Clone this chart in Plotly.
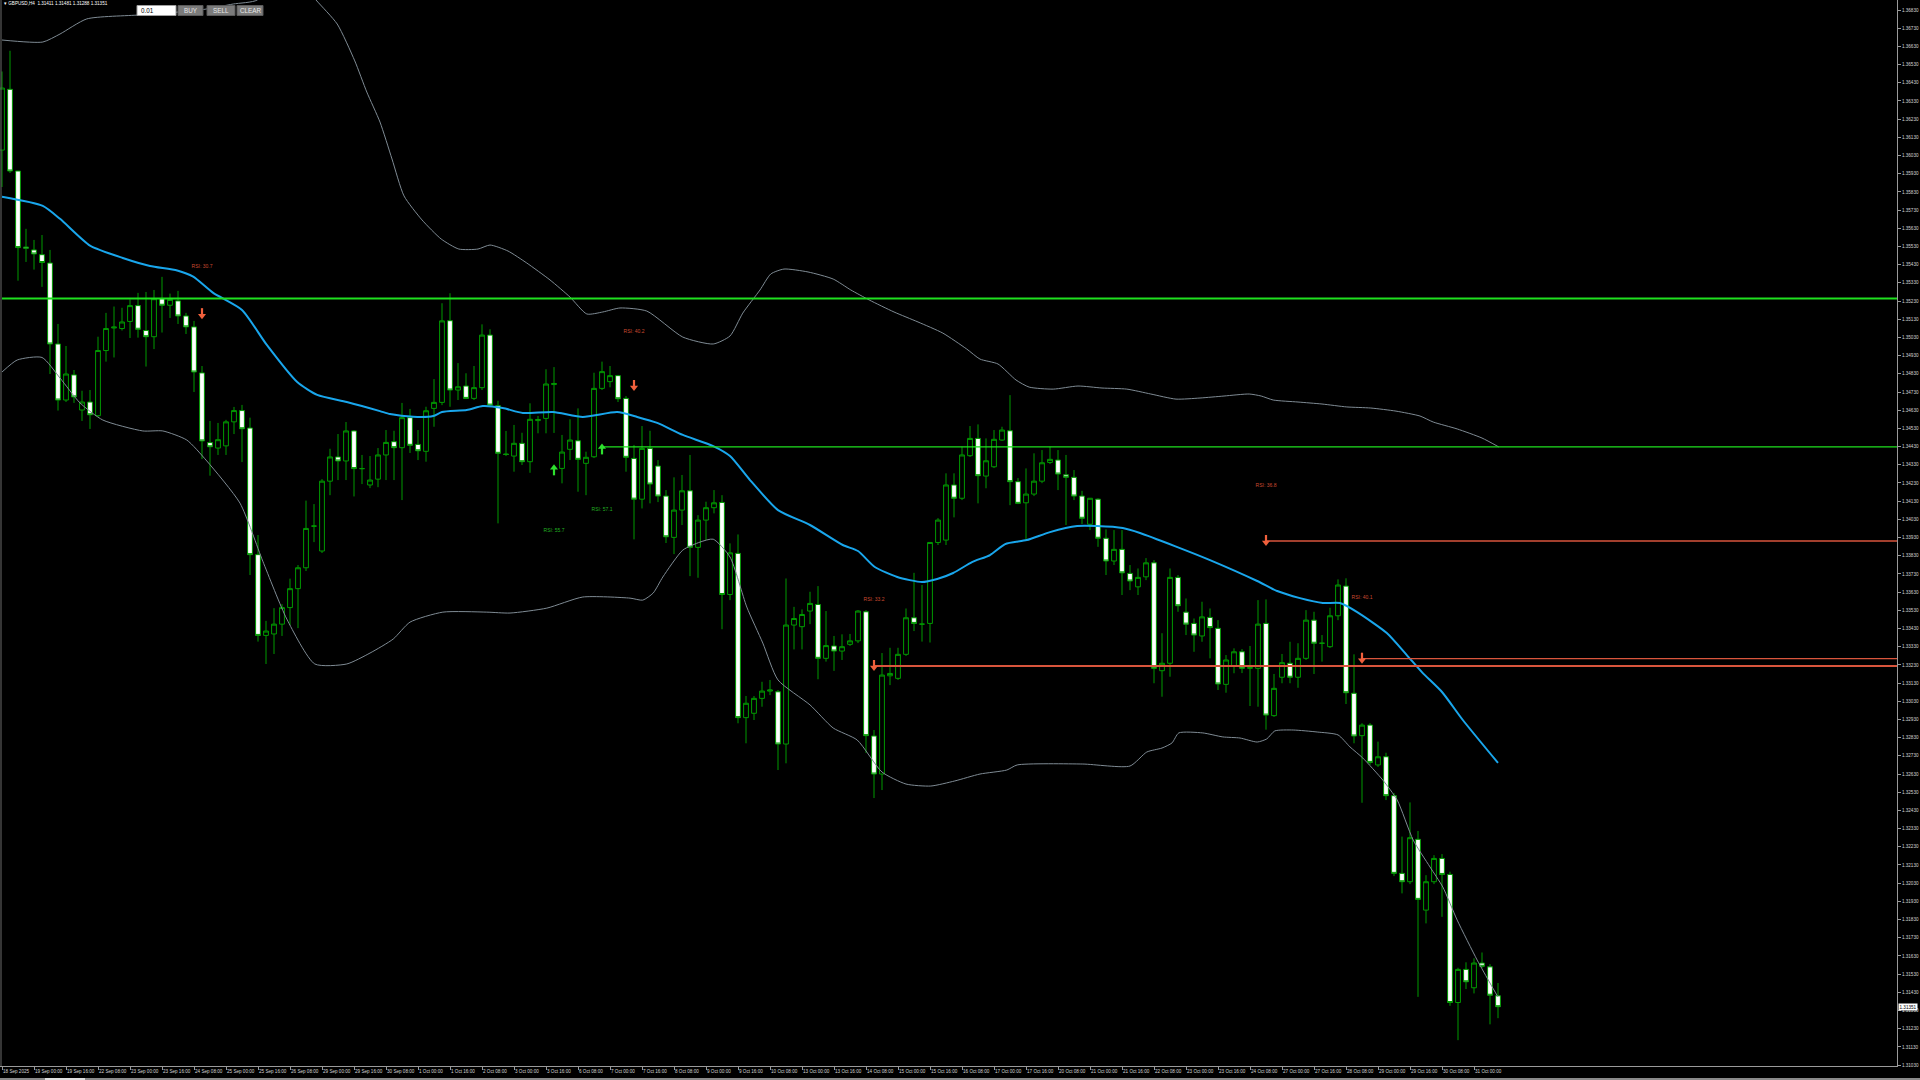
import plotly.graph_objects as go

# ---------------- data ----------------
symbol = "GBPUSD,H4"

tick_labels = ['18 Sep 2025', '19 Sep 00:00', '19 Sep 16:00', '22 Sep 08:00', '23 Sep 00:00', '23 Sep 16:00',
               '24 Sep 08:00', '25 Sep 00:00', '25 Sep 16:00', '26 Sep 08:00', '29 Sep 00:00', '29 Sep 16:00',
               '30 Sep 08:00', '1 Oct 00:00', '1 Oct 16:00', '2 Oct 08:00', '3 Oct 00:00', '3 Oct 16:00',
               '6 Oct 08:00', '7 Oct 00:00', '7 Oct 16:00', '8 Oct 08:00', '9 Oct 00:00', '9 Oct 16:00',
               '10 Oct 08:00', '13 Oct 00:00', '13 Oct 16:00', '14 Oct 08:00', '15 Oct 00:00', '15 Oct 16:00',
               '16 Oct 08:00', '17 Oct 00:00', '17 Oct 16:00', '20 Oct 08:00', '21 Oct 00:00', '21 Oct 16:00',
               '22 Oct 08:00', '23 Oct 00:00', '23 Oct 16:00', '24 Oct 08:00', '27 Oct 00:00', '27 Oct 16:00',
               '28 Oct 08:00', '29 Oct 00:00', '29 Oct 16:00', '30 Oct 08:00', '31 Oct 00:00']

opens = [1.36060, 1.36394, 1.35945, 1.35527, 1.35511, 1.35485, 1.35439, 1.34994, 1.34686, 1.34824,
         1.34631, 1.34675, 1.34600, 1.34958, 1.35082, 1.35079, 1.35118, 1.35205, 1.35068, 1.35034,
         1.35243, 1.35207, 1.35231, 1.35148, 1.35088, 1.34835, 1.34452, 1.34422, 1.34434, 1.34566,
         1.34628, 1.34532, 1.33836, 1.33392, 1.33400, 1.33454, 1.33545, 1.33649, 1.33764, 1.33993,
         1.33856, 1.34240, 1.34373, 1.34351, 1.34516, 1.34309, 1.34219, 1.34251, 1.34384, 1.34457,
         1.34424, 1.34589, 1.34442, 1.34404, 1.34640, 1.34673, 1.35122, 1.34741, 1.34763, 1.34695,
         1.34754, 1.35043, 1.34655, 1.34389, 1.34378, 1.34448, 1.34347, 1.34573, 1.34585, 1.34771,
         1.34310, 1.34415, 1.34462, 1.34338, 1.34374, 1.34750, 1.34787, 1.34820, 1.34695, 1.34365,
         1.34141, 1.34420, 1.34323, 1.34158, 1.33931, 1.34081, 1.34187, 1.33876, 1.34026, 1.34094,
         1.34123, 1.33617, 1.33843, 1.32940, 1.32964, 1.33046, 1.33086, 1.33082, 1.32795, 1.33449,
         1.33440, 1.33526, 1.33562, 1.33266, 1.33334, 1.33306, 1.33343, 1.33362, 1.33522, 1.32839,
         1.32630, 1.33170, 1.33156, 1.33288, 1.33489, 1.33454, 1.33458, 1.33903, 1.33916, 1.34219,
         1.34146, 1.34380, 1.34475, 1.34268, 1.34319, 1.34466, 1.34517, 1.34237, 1.34121, 1.34169,
         1.34240, 1.34343, 1.34356, 1.34275, 1.34261, 1.34158, 1.34003, 1.34141, 1.33926, 1.33801,
         1.33865, 1.33733, 1.33659, 1.33714, 1.33791, 1.33198, 1.33239, 1.33711, 1.33520, 1.33458,
         1.33389, 1.33491, 1.33431, 1.33123, 1.33225, 1.33302, 1.33211, 1.33211, 1.33458, 1.32951,
         1.33162, 1.33239, 1.33162, 1.33266, 1.33476, 1.33349, 1.33330, 1.33500, 1.33663, 1.33074,
         1.32841, 1.32899, 1.32680, 1.32725, 1.32511, 1.32084, 1.32038, 1.32271, 1.31882, 1.32038,
         1.32166, 1.32078, 1.31374, 1.31556, 1.31455, 1.31591, 1.31570, 1.31411]

highs = [1.36492, 1.36606, 1.35945, 1.35627, 1.35566, 1.35593, 1.35511, 1.35104, 1.34983, 1.34851,
         1.34737, 1.34741, 1.35034, 1.35165, 1.35200, 1.35193, 1.35239, 1.35275, 1.35280, 1.35291,
         1.35363, 1.35271, 1.35286, 1.35165, 1.35121, 1.34873, 1.34571, 1.34560, 1.34577, 1.34648,
         1.34659, 1.34589, 1.33944, 1.33472, 1.33542, 1.33564, 1.33704, 1.33779, 1.34133, 1.34114,
         1.34251, 1.34418, 1.34499, 1.34565, 1.34521, 1.34384, 1.34378, 1.34422, 1.34521, 1.34517,
         1.34670, 1.34637, 1.34521, 1.34649, 1.34801, 1.35218, 1.35273, 1.34889, 1.34833, 1.34873,
         1.35102, 1.35075, 1.34682, 1.34516, 1.34549, 1.34506, 1.34668, 1.34598, 1.34855, 1.34867,
         1.34494, 1.34580, 1.34640, 1.34402, 1.34836, 1.34897, 1.34873, 1.34824, 1.34708, 1.34439,
         1.34543, 1.34517, 1.34356, 1.34191, 1.34261, 1.34274, 1.34384, 1.34053, 1.34127, 1.34191,
         1.34163, 1.33898, 1.33947, 1.33059, 1.33059, 1.33137, 1.33147, 1.33092, 1.33705, 1.33549,
         1.33535, 1.33632, 1.33663, 1.33526, 1.33389, 1.33398, 1.33400, 1.33531, 1.33531, 1.32872,
         1.33295, 1.33324, 1.33324, 1.33540, 1.33736, 1.33669, 1.33903, 1.34037, 1.34283, 1.34283,
         1.34429, 1.34543, 1.34552, 1.34475, 1.34521, 1.34539, 1.34713, 1.34257, 1.34310, 1.34393,
         1.34411, 1.34429, 1.34411, 1.34384, 1.34301, 1.34187, 1.34147, 1.34146, 1.33975, 1.33971,
         1.33971, 1.33779, 1.33760, 1.33817, 1.33806, 1.33404, 1.33760, 1.33724, 1.33595, 1.33485,
         1.33577, 1.33540, 1.33476, 1.33284, 1.33321, 1.33317, 1.33334, 1.33586, 1.33590, 1.33180,
         1.33290, 1.33357, 1.33349, 1.33531, 1.33522, 1.33394, 1.33544, 1.33700, 1.33706, 1.33288,
         1.32909, 1.32910, 1.32808, 1.32747, 1.32526, 1.32286, 1.32474, 1.32317, 1.32074, 1.32184,
         1.32190, 1.32093, 1.31565, 1.31595, 1.31617, 1.31649, 1.31585, 1.31481]

lows = [1.35857, 1.35934, 1.35342, 1.35445, 1.35403, 1.35308, 1.34829, 1.34628, 1.34675, 1.34670,
        1.34571, 1.34527, 1.34593, 1.34897, 1.34920, 1.35068, 1.35027, 1.35029, 1.34870, 1.34966,
        1.35057, 1.35137, 1.35104, 1.35049, 1.34730, 1.34362, 1.34270, 1.34384, 1.34384, 1.34499,
        1.34345, 1.33724, 1.33358, 1.33235, 1.33290, 1.33389, 1.33449, 1.33432, 1.33746, 1.33905,
        1.33845, 1.34163, 1.34246, 1.34246, 1.34156, 1.34224, 1.34202, 1.34207, 1.34246, 1.34246,
        1.34136, 1.34395, 1.34356, 1.34347, 1.34539, 1.34658, 1.34649, 1.34686, 1.34691, 1.34686,
        1.34741, 1.34653, 1.34008, 1.34378, 1.34292, 1.34329, 1.34286, 1.34503, 1.34503, 1.34505,
        1.34228, 1.34356, 1.34182, 1.34163, 1.34367, 1.34741, 1.34756, 1.34675, 1.34292, 1.33920,
        1.34090, 1.34118, 1.34125, 1.33900, 1.33839, 1.33999, 1.33718, 1.33709, 1.33916, 1.34063,
        1.33426, 1.33586, 1.32909, 1.32799, 1.32927, 1.33000, 1.33064, 1.32652, 1.32689, 1.33315,
        1.33315, 1.33454, 1.33151, 1.33248, 1.33197, 1.33257, 1.33334, 1.33350, 1.32746, 1.32498,
        1.32542, 1.33119, 1.33147, 1.33279, 1.33416, 1.33358, 1.33353, 1.33889, 1.33889, 1.34041,
        1.34136, 1.34373, 1.34118, 1.34201, 1.34312, 1.34461, 1.34108, 1.34114, 1.33916, 1.34158,
        1.34229, 1.34334, 1.34191, 1.33999, 1.34136, 1.34004, 1.33971, 1.33879, 1.33724, 1.33779,
        1.33614, 1.33641, 1.33614, 1.33696, 1.33129, 1.33055, 1.33165, 1.33522, 1.33394, 1.33302,
        1.33357, 1.33266, 1.33092, 1.33077, 1.33184, 1.33185, 1.33004, 1.33000, 1.32874, 1.32944,
        1.33129, 1.33129, 1.33104, 1.33257, 1.33180, 1.33248, 1.33323, 1.33476, 1.33015, 1.32799,
        1.32472, 1.32680, 1.32669, 1.32487, 1.32069, 1.31974, 1.32025, 1.31405, 1.31809, 1.32025,
        1.31845, 1.31356, 1.31167, 1.31448, 1.31424, 1.31563, 1.31254, 1.31288]

closes = [1.36401, 1.35945, 1.35524, 1.35521, 1.35489, 1.35442, 1.34994, 1.34686, 1.34829, 1.34703,
          1.34675, 1.34605, 1.34958, 1.35079, 1.35087, 1.35115, 1.35205, 1.35075, 1.35034, 1.35243,
          1.35207, 1.35239, 1.35148, 1.35088, 1.34840, 1.34461, 1.34429, 1.34468, 1.34566, 1.34628,
          1.34528, 1.33836, 1.33392, 1.33416, 1.33454, 1.33545, 1.33649, 1.33764, 1.33980, 1.33993,
          1.34240, 1.34373, 1.34351, 1.34516, 1.34309, 1.34309, 1.34246, 1.34384, 1.34453, 1.34424,
          1.34589, 1.34437, 1.34407, 1.34627, 1.34673, 1.35121, 1.34741, 1.34759, 1.34695, 1.34754,
          1.35043, 1.34658, 1.34393, 1.34387, 1.34448, 1.34347, 1.34580, 1.34579, 1.34774, 1.34777,
          1.34400, 1.34466, 1.34360, 1.34371, 1.34750, 1.34842, 1.34820, 1.34693, 1.34371, 1.34141,
          1.34420, 1.34224, 1.34158, 1.33934, 1.34081, 1.34187, 1.33876, 1.34026, 1.34094, 1.34121,
          1.33617, 1.33846, 1.32940, 1.33019, 1.33046, 1.33086, 1.33092, 1.32795, 1.33449, 1.33485,
          1.33507, 1.33568, 1.33266, 1.33336, 1.33306, 1.33330, 1.33362, 1.33526, 1.32841, 1.32630,
          1.33174, 1.33183, 1.33288, 1.33489, 1.33458, 1.33454, 1.33903, 1.34026, 1.34219, 1.34146,
          1.34384, 1.34475, 1.34270, 1.34352, 1.34470, 1.34521, 1.34237, 1.34118, 1.34169, 1.34240,
          1.34341, 1.34360, 1.34279, 1.34261, 1.34158, 1.34036, 1.34146, 1.33926, 1.33801, 1.33865,
          1.33736, 1.33691, 1.33711, 1.33791, 1.33211, 1.33239, 1.33711, 1.33555, 1.33454, 1.33394,
          1.33494, 1.33435, 1.33125, 1.33257, 1.33302, 1.33211, 1.33215, 1.33454, 1.32954, 1.33101,
          1.33242, 1.33162, 1.33266, 1.33476, 1.33349, 1.33349, 1.33500, 1.33669, 1.33077, 1.32839,
          1.32899, 1.32694, 1.32725, 1.32511, 1.32084, 1.32038, 1.32280, 1.31941, 1.32038, 1.32166,
          1.32078, 1.31374, 1.31556, 1.31488, 1.31591, 1.31573, 1.31414, 1.31351]

# moving average (blue) sampled along the bars
ma_idx = [0, 5.1, 7.25, 11, 15.1, 18.5, 21.9, 23.9, 26.4, 30, 33.1, 36.9, 39.4, 43.1, 47.25, 48.5, 51.4, 53.9,
          55, 58.1, 60.1, 62.6, 65.1, 68.9, 72.6, 76.9, 79.4, 81.9, 85.1, 88.9, 91, 93.5, 97, 101, 105.1, 107,
          109.1, 111.9, 115, 116.9, 118.9, 121.25, 123.5, 125.4, 128.1, 131, 134.4, 136.9, 140.1, 142.25,
          146.6, 151, 156.9, 159.4, 162.25, 165.1, 167.25, 169.4, 173.1, 175.6, 177.6, 180, 182.6, 187]
ma_val = [1.35803, 1.35753, 1.35682, 1.35535, 1.35467, 1.35423, 1.35398, 1.35364, 1.35275, 1.35181,
          1.34989, 1.34785, 1.34714, 1.34675, 1.34625, 1.34609, 1.34594, 1.34598, 1.34620, 1.34631,
          1.34653, 1.34642, 1.34615, 1.34620, 1.34593, 1.34620, 1.34593, 1.34560, 1.34494, 1.34433,
          1.34378, 1.34246, 1.34081, 1.33999, 1.33889, 1.33856, 1.33768, 1.33713, 1.33685, 1.33702,
          1.33735, 1.33795, 1.33834, 1.33894, 1.33916, 1.33960, 1.33993, 1.33993, 1.33982, 1.33955,
          1.33883, 1.33806, 1.33691, 1.33636, 1.33597, 1.33570, 1.33570, 1.33520, 1.33405, 1.33284,
          1.33185, 1.33081, 1.32927, 1.32691]

# Bollinger upper band (grey)
ub_idx = [0, 5.1, 7.25, 10.6, 17.25, 24.75, 28.9, 31.9, 34.1, 36.6, 39.25, 41.9, 44.1, 45.6, 47.25, 48.75,
          50.25, 52.5, 54.9, 57.1, 59.5, 61, 63.25, 65.6, 68.5, 71, 73.1, 75.1, 77.25, 80.6, 85.1, 88.9, 91,
          92.6, 94.75, 96.1, 97.75, 100.75, 103.9, 106.1, 108.4, 111.5, 114.5, 117.6, 120.6, 122.25, 124.5,
          126.75, 128.4, 131.4, 134.5, 137.5, 140.6, 143.6, 146.75, 149.75, 152.75, 155.9, 157.4, 158.9,
          162, 165, 168.1, 171.1, 174.25, 177.25, 178.9, 181.9, 185, 187.1]
ub_val = [1.36665, 1.36654, 1.36698, 1.36781, 1.36803, 1.36830, 1.36863, 1.36885, 1.37022, 1.37022,
          1.36885, 1.36753, 1.36550, 1.36379, 1.36214, 1.36011, 1.35808, 1.35676, 1.35571, 1.35516,
          1.35516, 1.35538, 1.35505, 1.35439, 1.35346, 1.35252, 1.35159, 1.35170, 1.35192, 1.35175,
          1.35032, 1.34994, 1.35038, 1.35164, 1.35291, 1.35379, 1.35406, 1.35390, 1.35351, 1.35291,
          1.35236, 1.35170, 1.35115, 1.35054, 1.34966, 1.34911, 1.34884, 1.34796, 1.34757, 1.34746,
          1.34763, 1.34752, 1.34746, 1.34719, 1.34691, 1.34697, 1.34708, 1.34719, 1.34708, 1.34686,
          1.34675, 1.34664, 1.34648, 1.34642, 1.34625, 1.34598, 1.34565, 1.34527, 1.34477, 1.34428]

# Bollinger lower band (grey)
lb_idx = [0, 1.9, 5, 7.25, 9.75, 12.6, 17.6, 20.1, 23.1, 25.6, 29.75, 32.6, 35.6, 39.1, 43.1, 46, 48.9, 51,
          55.1, 60.6, 63.5, 68.1, 72.6, 78.5, 80.1, 81.4, 82.6, 85.1, 87.25, 88.9, 91, 93.1, 95.1, 97, 101,
          103.9, 106.9, 110, 113, 116.1, 119.1, 122.25, 125.6, 126.9, 135.1, 141, 143.1, 145, 146.25, 147.1,
          150.1, 152.6, 154.75, 156.9, 158.1, 159.1, 161.4, 164.4, 167, 168.5, 170.1, 172.6, 174.4, 176.4,
          178.5, 180.1, 181.9, 184.4, 186, 187]
lb_val = [1.34840, 1.34906, 1.34920, 1.34807, 1.34670, 1.34576, 1.34516, 1.34516, 1.34466, 1.34351,
          1.34119, 1.33800, 1.33482, 1.33235, 1.33235, 1.33295, 1.33372, 1.33465, 1.33520, 1.33520,
          1.33515, 1.33542, 1.33603, 1.33597, 1.33586, 1.33625, 1.33713, 1.33861, 1.33905, 1.33921,
          1.33823, 1.33548, 1.33350, 1.33147, 1.33010, 1.32883, 1.32817, 1.32641, 1.32575, 1.32564,
          1.32592, 1.32630, 1.32652, 1.32680, 1.32685, 1.32674, 1.32751, 1.32773, 1.32801, 1.32856,
          1.32856, 1.32834, 1.32828, 1.32806, 1.32823, 1.32867, 1.32872, 1.32861, 1.32845, 1.32779,
          1.32718, 1.32597, 1.32487, 1.32267, 1.32119, 1.32009, 1.31827, 1.31607, 1.31481, 1.31404]

# horizontal levels (price, starting bar)
green_levels = [1.35244, 1.34428]
green_start = [0, 75]
green_width = [2, 1.3]
red_levels = [1.33911, 1.33264, 1.33224]
red_start = [158, 170, 109]
red_width = [1.3, 1.3, 2]

# signal arrows
down_idx = [25, 79, 109, 158, 170]
down_val = [1.35158, 1.34763, 1.33224, 1.33911, 1.33264]
up_idx = [69, 75]
up_val = [1.34305, 1.34420]

# RSI annotations
rsi_idx = [25, 79, 75, 69, 109, 158, 170]
rsi_val = [1.35417, 1.35060, 1.34081, 1.33966, 1.33586, 1.34213, 1.33597]
rsi_text = ['RSI: 30.7', 'RSI: 40.2', 'RSI: 57.1', 'RSI: 55.7', 'RSI: 33.2', 'RSI: 36.8', 'RSI: 40.1']
rsi_side = ['sell', 'sell', 'buy', 'buy', 'sell', 'sell', 'sell']

lot_size = "0.01"
buttons = ["BUY", "SELL", "CLEAR"]

# ---------------- style ----------------
FONT = "Liberation Sans"
GREEN = "#009a00"
AXIS = "#9a9a9a"
TXT = "#d4d4d4"
BAND = "#7f8b94"
MA = "#19a6ec"
LIME = "#1fe01f"
RED = "#d9553c"
ARROW_RED = "#f0603c"
ARROW_GREEN = "#2ee02e"
PLOT_W, PLOT_H = 1897, 1066
X_RANGE = [-0.25, 236.875]
Y_RANGE = [1.31025, 1.36885]
PX_Y = (Y_RANGE[1] - Y_RANGE[0]) / PLOT_H  # price per screen pixel


def px(x):
    return x / PLOT_W


def py(y):
    return 1 - y / PLOT_H


n = len(opens)
idx = list(range(n))

fig = go.Figure()
fig.add_trace(go.Candlestick(
    x=idx, open=opens, high=highs, low=lows, close=closes,
    increasing=dict(line=dict(color=GREEN, width=1), fillcolor="black"),
    decreasing=dict(line=dict(color=GREEN, width=1), fillcolor="white"),
    whiskerwidth=0, hoverinfo="skip", showlegend=False))

for xs, ys in [(ub_idx, ub_val), (lb_idx, lb_val)]:
    fig.add_trace(go.Scatter(x=xs, y=ys, mode="lines", hoverinfo="skip", showlegend=False,
                             line=dict(color=BAND, width=1, shape="spline", smoothing=0.6)))
fig.add_trace(go.Scatter(x=ma_idx, y=ma_val, mode="lines", hoverinfo="skip", showlegend=False,
                         line=dict(color=MA, width=2, shape="spline", smoothing=0.6)))

for lvl, st, w in zip(green_levels, green_start, green_width):
    fig.add_trace(go.Scatter(x=[st, X_RANGE[1]], y=[lvl, lvl], mode="lines", hoverinfo="skip",
                             showlegend=False, line=dict(color=LIME, width=w)))
for lvl, st, w in zip(red_levels, red_start, red_width):
    fig.add_trace(go.Scatter(x=[st, X_RANGE[1]], y=[lvl, lvl], mode="lines", hoverinfo="skip",
                             showlegend=False, line=dict(color=RED, width=w)))


def add_arrow(xs, ys, direction, color):
    sgn = 1 if direction == "down" else -1
    # shaft
    fig.add_trace(go.Scatter(x=xs, y=[v + sgn * 2.5 * PX_Y for v in ys], mode="markers",
                             marker=dict(symbol="line-ns", size=5, line=dict(color=color, width=2.2)),
                             hoverinfo="skip", showlegend=False))
    # head
    fig.add_trace(go.Scatter(x=xs, y=[v - sgn * 1.5 * PX_Y for v in ys], mode="markers",
                             marker=dict(symbol="triangle-" + direction, size=7, color=color,
                                         line=dict(width=0)),
                             hoverinfo="skip", showlegend=False))


add_arrow(down_idx, down_val, "down", ARROW_RED)
add_arrow(up_idx, up_val, "up", ARROW_GREEN)

fig.add_trace(go.Scatter(x=rsi_idx, y=rsi_val, mode="text", text=rsi_text,
                         textfont=dict(family=FONT, size=5,
                                       color=["#cc4a30" if s == "sell" else "#22b022" for s in rsi_side]),
                         hoverinfo="skip", showlegend=False))

shapes = []
annotations = []

# left window border
shapes.append(dict(type="line", xref="paper", yref="paper", x0=px(1), x1=px(1), y0=0, y1=1,
                   line=dict(color="#6a6a6a", width=1)))
# bottom tab strip
shapes.append(dict(type="rect", xref="paper", yref="paper", x0=0, x1=px(1920), y0=py(1080), y1=py(1078),
                   fillcolor="#8a8a8a", line=dict(width=0)))
shapes.append(dict(type="rect", xref="paper", yref="paper", x0=px(45), x1=px(85), y0=py(1080), y1=py(1078),
                   fillcolor="#e0e0e0", line=dict(width=0)))

# lot box + buttons
shapes.append(dict(type="rect", xref="paper", yref="paper", x0=px(137), x1=px(176), y0=py(15.5), y1=py(5.5),
                   fillcolor="white", line=dict(color="#a0a0a0", width=1)))
annotations.append(dict(xref="paper", yref="paper", x=px(139), y=py(10.5), text=lot_size, showarrow=False,
                        xanchor="left", yanchor="middle", font=dict(family=FONT, size=6.3, color="black")))
btn_x = [(178, 203), (207, 235), (237, 263)]
for label, (x0, x1) in zip(buttons, btn_x):
    shapes.append(dict(type="rect", xref="paper", yref="paper", x0=px(x0), x1=px(x1), y0=py(15.5), y1=py(5.5),
                       fillcolor="#7b7b7b", line=dict(color="#5a5a5a", width=1)))
    annotations.append(dict(xref="paper", yref="paper", x=px((x0 + x1) / 2), y=py(10.5), text=label,
                            showarrow=False, xanchor="center", yanchor="middle",
                            font=dict(family=FONT, size=6.3, color="#e8e8e8")))

# header
header = "▾ {}  {:.5f} {:.5f} {:.5f} {:.5f}".format(symbol, opens[-1], highs[-1], lows[-1], closes[-1])
annotations.append(dict(xref="paper", yref="paper", x=px(2), y=py(4), text=header, showarrow=False,
                        xanchor="left", yanchor="middle", font=dict(family=FONT, size=4.6, color="white")))

# current price label
annotations.append(dict(xref="paper", yref="y", x=px(1898), y=closes[-1], text="{:.5f}".format(closes[-1]),
                        showarrow=False, xanchor="left", yanchor="middle", bgcolor="white", borderpad=0.5,
                        font=dict(family=FONT, size=4.6, color="black")))

fig.update_layout(
    width=1920, height=1080, autosize=False,
    margin=dict(l=0, r=1920 - PLOT_W, t=0, b=1080 - PLOT_H, pad=0),
    paper_bgcolor="black", plot_bgcolor="black",
    showlegend=False, boxgap=0.25, boxgroupgap=0.2,
    shapes=shapes, annotations=annotations,
    xaxis=dict(range=X_RANGE, tickmode="array", tickvals=list(range(0, n, 4))[:len(tick_labels)],
               ticktext=tick_labels, ticks="outside", ticklen=3, tickcolor=AXIS, showline=True,
               linecolor=AXIS, linewidth=1, showgrid=False, zeroline=False,
               rangeslider=dict(visible=False), ticklabelposition="outside right", tickangle=0,
               tickfont=dict(family=FONT, size=4.6, color=TXT), fixedrange=True),
    yaxis=dict(range=Y_RANGE, side="right", tick0=1.3103, dtick=0.001, tickformat=".5f",
               ticks="outside", ticklen=3, tickcolor=AXIS, showline=True, linecolor=AXIS, linewidth=1,
               showgrid=False, zeroline=False, tickfont=dict(family=FONT, size=4.6, color=TXT),
               fixedrange=True),
)

fig.write_html("out.html", config={"displayModeBar": False},
               post_script="document.body.style.margin='0';document.body.style.background='black';")
